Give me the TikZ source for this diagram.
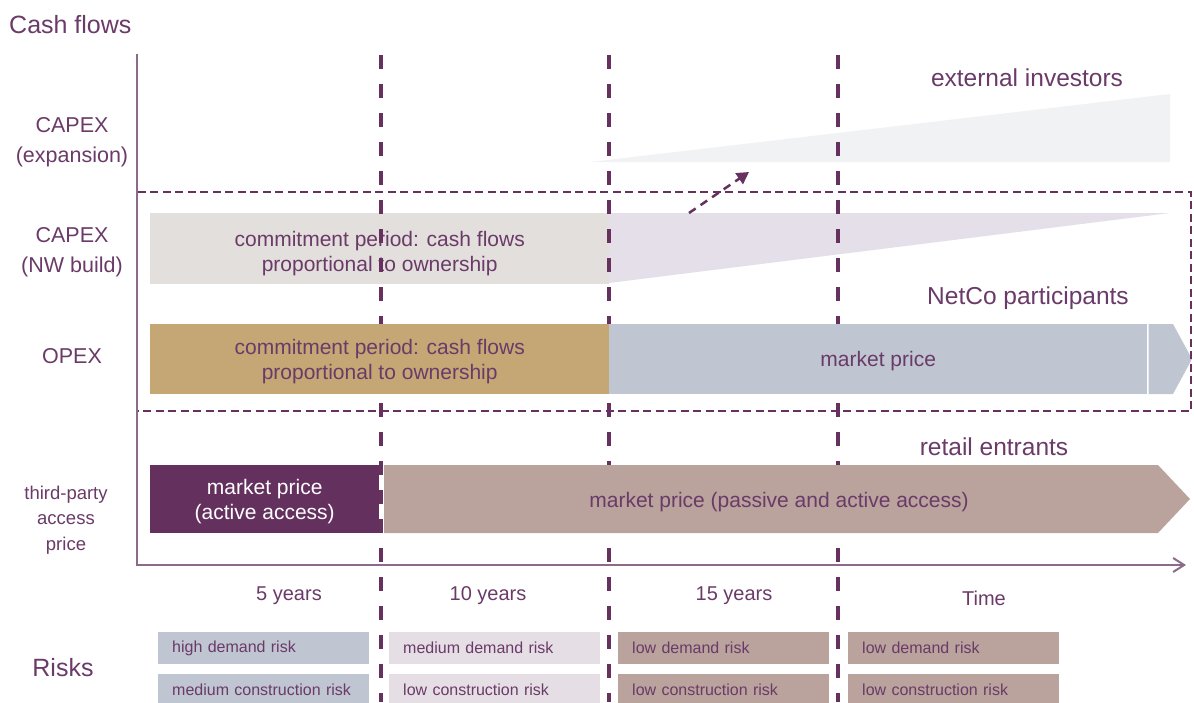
\documentclass[tikz,border=0pt]{standalone}
\usepackage{fontspec}
\setmainfont{Liberation Sans}
\usepackage{xcolor}
\usetikzlibrary{arrows.meta,positioning}
\definecolor{roxotexto}{HTML}{6A3A68}
\definecolor{roxolinha}{HTML}{66305F}
\definecolor{roxoeixo}{HTML}{8C6A89}
\definecolor{roxoativo}{HTML}{64315F}
\definecolor{cinzacapex}{HTML}{E3DFDC}
\definecolor{lavanda}{HTML}{E4DFE8}
\definecolor{cinzainvest}{HTML}{F1F2F4}
\definecolor{dourado}{HTML}{C4A775}
\definecolor{azulcinza}{HTML}{BFC5D1}
\definecolor{malva}{HTML}{BAA39C}
\definecolor{lavandarisco}{HTML}{E5DFE5}
\tikzset{
    bloco/.style={
        rectangle,
        anchor=north west,
        inner sep=0pt,
        align=center,
        text depth=0pt,
        text=roxotexto,
        font=\fontsize{21}{25}\selectfont
    },
    rotulo/.style={text=roxotexto, align=center, inner sep=0pt,
        font=\fontsize{21.5}{30}\selectfont},
    titulo/.style={text=roxotexto, inner sep=0pt,
        font=\fontsize{25}{30}\selectfont},
    ano/.style={text=roxotexto, inner sep=0pt,
        font=\fontsize{20}{24}\selectfont},
    risco/.style={
        rectangle,
        anchor=north west,
        align=left,
        text=roxotexto,
        inner xsep=14pt,
        inner ysep=0pt,
        minimum width=211pt,
        minimum height=32pt,
        text width=183pt,
        font=\fontsize{16}{19}\selectfont
    },
    divisao/.style={roxolinha, line width=4pt, dash pattern=on 14pt off 15pt},
    regiao/.style={roxolinha, line width=2.5pt, dash pattern=on 8pt off 4.5pt},
    eixo/.style={roxoeixo, line width=2pt, -{Straight Barb[length=11pt,width=14pt]}},
    fluxo/.style={roxolinha, line width=2.5pt, dash pattern=on 8pt off 6pt,
        -{Triangle[length=12pt,width=13pt]}}
}

\begin{document}
\begin{tikzpicture}[x=1pt, y=-1pt]
    \useasboundingbox (0,0) rectangle (1194,702);

    % cunhas de CAPEX
    \fill[cinzainvest] (590,162) -- (1170,94) -- (1170,162) -- cycle;
    \fill[lavanda] (609,213) -- (1170,213) -- (609,283) -- cycle;
    \node[bloco, fill=cinzacapex, minimum width=459pt, minimum height=71pt]
        (capexnw) at (150,213) {};
    \node[rotulo, font=\fontsize{21}{25}\selectfont] (capextexto)
        at ([yshift=-5pt]capexnw.center)
        {commitment period: cash flows\\proportional to ownership};

    % divisoes de periodo
    \foreach \x in {381,609,838}
        \draw[divisao] (\x,55) -- (\x,702);

    % OPEX
    \node[bloco, fill=dourado, minimum width=459pt, minimum height=70pt]
        (opexcomp) at (150,324)
        {commitment period: cash flows\\proportional to ownership};
    \node[bloco, fill=azulcinza, minimum width=538pt, minimum height=70pt]
        (opexmerc) at (609,324) {market price};
    \fill[azulcinza] (1148.5,324) -- (1173,324) -- (1192,359)
        -- (1173,394) -- (1148.5,394) -- cycle;

    % preco de acesso
    \node[bloco, fill=roxoativo, text=white, minimum width=229pt, minimum height=68pt]
        (ativo) at (150,465) {market price\\(active access)};
    \fill[malva] (384,465) -- (1158,465) -- (1190,499) -- (1158,533)
        -- (384,533) -- cycle;
    \node[rotulo, font=\fontsize{21}{25}\selectfont] (passivo) at (779,502)
        {market price (passive and active access)};

    % regiao NetCo
    \draw[regiao] (137,192) rectangle (1191,411);

    % eixos
    \coordinate (topo) at (137,54);
    \coordinate (origem) at (137,565);
    \coordinate (fim) at (1186,565);
    \draw[eixo] (topo) -- (origem) -- (fim);

    % seta para investidores externos
    \coordinate (setaini) at (689,213);
    \coordinate (setafim) at (749,172);
    \draw[fluxo] (setaini) -- (setafim);

    % rotulos
    \node[titulo, anchor=west] (fluxos) at (9,25) {Cash flows};
    \node[rotulo] (capexexp) at (72,142) {CAPEX\\(expansion)};
    \node[rotulo] (capexnwl) at (72,252) {CAPEX\\(NW build)};
    \node[rotulo] (opex) at (72,356) {OPEX};
    \node[rotulo, font=\fontsize{18.5}{25.5}\selectfont] (terceiros) at (66,520)
        {third-party\\access\\price};
    \node[titulo, font=\fontsize{24.5}{30}\selectfont] (externos) at (1027,78)
        {external investors};
    \node[titulo, font=\fontsize{24.5}{30}\selectfont] (netco) at (1028,298)
        {NetCo participants};
    \node[titulo, font=\fontsize{24.5}{30}\selectfont] (varejo) at (994,447)
        {retail entrants};

    % anos
    \node[ano] (a5) at (289,596) {5 years};
    \node[ano] (a10) at (488,596) {10 years};
    \node[ano] (a15) at (734,596) {15 years};
    \node[ano] (tempo) at (984,598) {Time};

    % riscos
    \node[titulo] (riscos) at (63,668) {Risks};
    \foreach \x/\cor/\dem/\con [count=\i] in
        {158/azulcinza/high/medium, 389/lavandarisco/medium/low,
         618/malva/low/low, 848/malva/low/low} {
        \node[risco, fill=\cor] (dem\i) at (\x,632) {\dem\ demand risk};
        \node[risco, fill=\cor, below=9pt of dem\i.south west, anchor=north west]
            (con\i) {\con\ construction risk};
    }
\end{tikzpicture}
\end{document}
